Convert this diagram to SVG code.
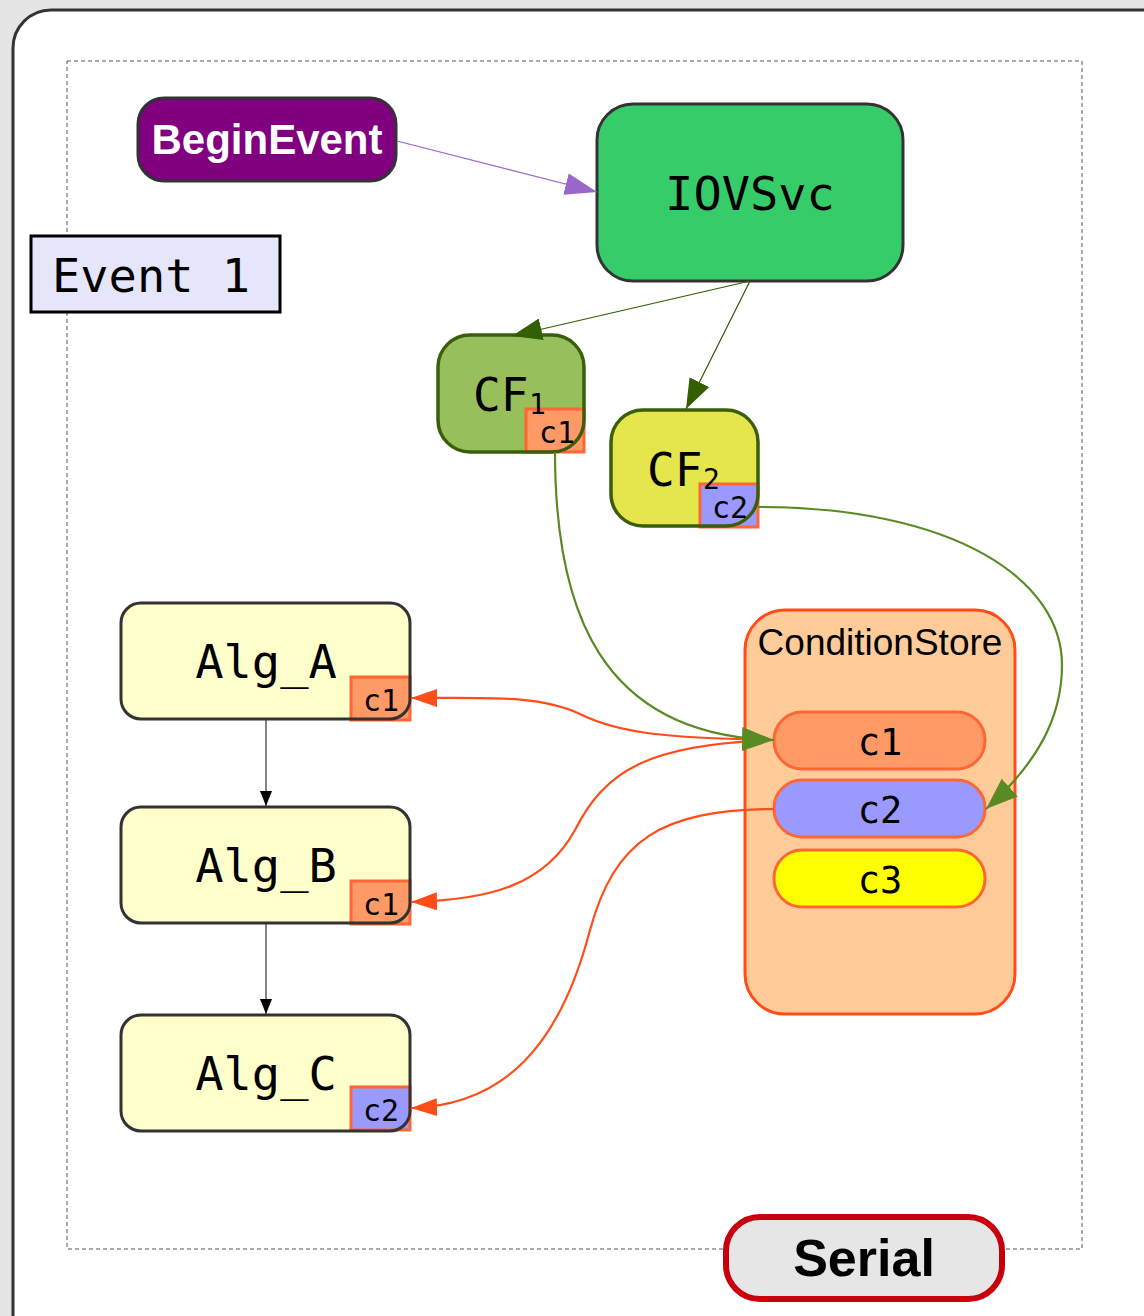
<svg xmlns="http://www.w3.org/2000/svg" width="1144" height="1316" viewBox="0 0 1144 1316">
<style>
.mono{font-family:"DejaVu Sans Mono",monospace;fill:#000}
.sans{font-family:"Liberation Sans",Arial,sans-serif}
.alg{fill:#ffffcc;stroke:none}
.algs{fill:none;stroke:#333;stroke-width:3}
.b1{fill:#ff9966;stroke:#ff6633;stroke-width:3}
.b2{fill:#9999ff;stroke:#ff6633;stroke-width:3}
.cfs{fill:none;stroke:#3a5f0b;stroke-width:3.5}
</style>
<defs>
<marker id="aP" viewBox="0 0 32 22" refX="32" refY="11" markerUnits="userSpaceOnUse" markerWidth="32" markerHeight="22" orient="auto"><path d="M0,0L32,11L0,22z" fill="#9966cc"/></marker>
<marker id="aG" viewBox="0 0 30 22" refX="30" refY="11" markerUnits="userSpaceOnUse" markerWidth="30" markerHeight="22" orient="auto"><path d="M0,0L30,11L0,22z" fill="#335f00"/></marker>
<marker id="aL" viewBox="0 0 32 24" refX="32" refY="12" markerUnits="userSpaceOnUse" markerWidth="32" markerHeight="24" orient="auto"><path d="M0,0L32,12L0,24z" fill="#5a8a23"/></marker>
<marker id="aO" viewBox="0 0 26 18" refX="26" refY="9" markerUnits="userSpaceOnUse" markerWidth="26" markerHeight="18" orient="auto"><path d="M0,0L26,9L0,18z" fill="#ff4d1a"/></marker>
<marker id="aK" viewBox="0 0 15 12" refX="15" refY="6" markerUnits="userSpaceOnUse" markerWidth="15" markerHeight="12" orient="auto"><path d="M0,0L15,6L0,12z" fill="#000"/></marker>
</defs>
<rect x="0" y="0" width="1144" height="1316" fill="#e5e5e5"/>
<rect x="13" y="10" width="1180" height="1350" rx="38" fill="#fff" stroke="#333" stroke-width="3"/>
<rect x="67" y="61" width="1015" height="1188" fill="none" stroke="#555" stroke-width="1" stroke-dasharray="4,3"/>

<g id="event1">
<rect x="31" y="236" width="249" height="76" fill="#e6e6fa" stroke="#000" stroke-width="3"/>
<text x="52" y="292" class="mono" font-size="47">Event 1</text>
</g>

<g id="beginevent">
<rect x="138" y="98" width="258" height="83" rx="26" fill="#800080" stroke="#333" stroke-width="3"/>
<text x="267" y="154" class="sans" font-size="42" font-weight="bold" fill="#fff" text-anchor="middle">BeginEvent</text>
</g>

<g id="iovsvc">
<rect x="597" y="104" width="306" height="177" rx="36" fill="#37cc6a" stroke="#333" stroke-width="3"/>
<text x="750" y="210" class="mono" font-size="47" text-anchor="middle">IOVSvc</text>
</g>

<g id="cf1">
<rect x="438" y="335" width="146" height="117" rx="32" fill="#97bf5c"/>
<rect x="526" y="409" width="58" height="43" class="b1"/>
<rect x="438" y="335" width="146" height="117" rx="32" class="cfs"/>
<text x="473" y="411" class="mono" font-size="46">CF</text>
<text x="529" y="414" class="mono" font-size="28">1</text>
<text x="557" y="443" class="mono" font-size="30" text-anchor="middle">c1</text>
</g>

<g id="cf2">
<rect x="611" y="410" width="147" height="116" rx="32" fill="#e5e54c"/>
<rect x="700" y="484" width="58" height="43" class="b2"/>
<rect x="611" y="410" width="147" height="116" rx="32" class="cfs"/>
<text x="647" y="486" class="mono" font-size="46">CF</text>
<text x="703" y="489" class="mono" font-size="28">2</text>
<text x="730" y="518" class="mono" font-size="30" text-anchor="middle">c2</text>
</g>

<g id="alg_a">
<rect x="121" y="603" width="289" height="116" rx="20" class="alg"/>
<rect x="351" y="677" width="59" height="43" class="b1"/>
<rect x="121" y="603" width="289" height="116" rx="20" class="algs"/>
<text x="266" y="678" class="mono" font-size="47" text-anchor="middle">Alg_A</text>
<text x="381" y="711" class="mono" font-size="30" text-anchor="middle">c1</text>
</g>

<g id="alg_b">
<rect x="121" y="807" width="289" height="116" rx="20" class="alg"/>
<rect x="351" y="881" width="59" height="43" class="b1"/>
<rect x="121" y="807" width="289" height="116" rx="20" class="algs"/>
<text x="266" y="882" class="mono" font-size="47" text-anchor="middle">Alg_B</text>
<text x="381" y="915" class="mono" font-size="30" text-anchor="middle">c1</text>
</g>

<g id="alg_c">
<rect x="121" y="1015" width="289" height="116" rx="20" class="alg"/>
<rect x="351" y="1087" width="59" height="43" class="b2"/>
<rect x="121" y="1015" width="289" height="116" rx="20" class="algs"/>
<text x="266" y="1090" class="mono" font-size="47" text-anchor="middle">Alg_C</text>
<text x="381" y="1121" class="mono" font-size="30" text-anchor="middle">c2</text>
</g>

<g id="conditionstore">
<rect x="745" y="610" width="270" height="404" rx="40" fill="#ffcc99" stroke="#ff4d1a" stroke-width="3"/>
<text x="880" y="655" class="sans" font-size="37" text-anchor="middle" fill="#000">ConditionStore</text>
</g>

<g id="store_c1">
<rect x="774" y="712" width="211" height="57" rx="28" fill="#ff9966" stroke="#ff6633" stroke-width="3"/>
<text x="880" y="755" class="mono" font-size="37" text-anchor="middle">c1</text>
</g>
<g id="store_c2">
<rect x="774" y="780" width="211" height="57" rx="28" fill="#9999ff" stroke="#ff6633" stroke-width="3"/>
<text x="880" y="823" class="mono" font-size="37" text-anchor="middle">c2</text>
</g>
<g id="store_c3">
<rect x="774" y="850" width="211" height="57" rx="28" fill="#ffff00" stroke="#ff6633" stroke-width="3"/>
<text x="880" y="893" class="mono" font-size="37" text-anchor="middle">c3</text>
</g>

<g id="connectors" fill="none">
<path d="M397,141 L597,192" stroke="#9966cc" stroke-width="1.2" marker-end="url(#aP)"/>
<path d="M750,281 L512,336" stroke="#335f00" stroke-width="1.2" marker-end="url(#aG)"/>
<path d="M750,281 L686,409" stroke="#335f00" stroke-width="1.2" marker-end="url(#aG)"/>
<path d="M266,720 L266,806" stroke="#333" stroke-width="1.2" marker-end="url(#aK)"/>
<path d="M266,924 L266,1014" stroke="#333" stroke-width="1.2" marker-end="url(#aK)"/>
<path d="M774,740 C670,738 620,734 580,714 C540,695 490,698 411,698" stroke="#ff4d1a" stroke-width="2.2" marker-end="url(#aO)"/>
<path d="M774,740 C650,744 605,770 575,830 C545,885 490,900 411,902" stroke="#ff4d1a" stroke-width="2.2" marker-end="url(#aO)"/>
<path d="M774,809 C660,810 615,840 590,930 C560,1045 505,1105 411,1108" stroke="#ff4d1a" stroke-width="2.2" marker-end="url(#aO)"/>
<path d="M555,452 C555,610 600,735 774,740" stroke="#5a8a23" stroke-width="2.2" marker-end="url(#aL)"/>
<path d="M758,507 C955,507 1062,580 1062,665 C1062,720 1035,765 986,809" stroke="#5a8a23" stroke-width="2.2" marker-end="url(#aL)"/>
</g>

<g id="serial">
<rect x="726" y="1217" width="276" height="82" rx="34" fill="#e6e6e6" stroke="#c8000e" stroke-width="6"/>
<text x="864" y="1276" class="sans" font-size="52" font-weight="bold" text-anchor="middle" fill="#000">Serial</text>
</g>
</svg>
